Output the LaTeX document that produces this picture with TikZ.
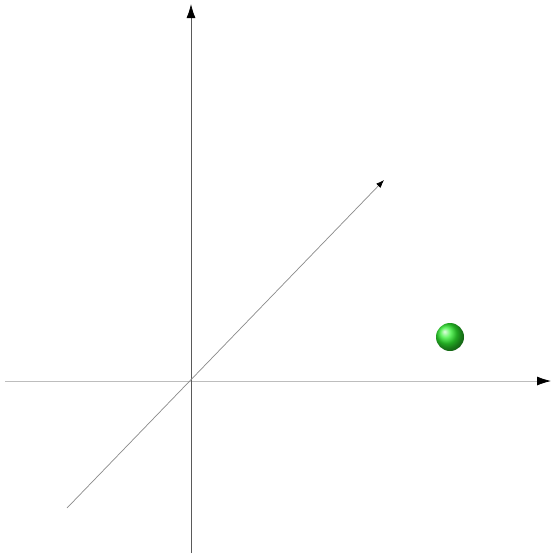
\documentclass[tikz,border=0pt]{standalone}
\usepackage{xcolor}
\usetikzlibrary{arrows.meta,positioning}
\definecolor{AxisLt}{HTML}{BDBDBD}
\definecolor{AxisDk}{HTML}{5A5A5A}
\definecolor{AxisMd}{HTML}{8A8A8A}
\definecolor{PtGreen}{HTML}{30F030}

\begin{document}
\begin{tikzpicture}[x=1pt,y=-1pt,
  axis/.style={draw=#1,line width=0.8pt,-{Latex[length=14pt,width=9pt,black]}},
  diag/.style={draw=AxisMd,line width=0.7pt,-{Latex[length=8pt,width=6pt,black]}},
  pt/.style={circle,minimum size=28pt,inner sep=0pt,shading=ball,ball color=PtGreen}
]
  \useasboundingbox (0,0) rectangle (551,555);

  % axis ends
  \coordinate (xs) at (5,381);
  \coordinate (xe) at (551,381);
  \coordinate (ys) at (191,553);
  \coordinate (ye) at (191,4);
  \coordinate (zs) at (67,508);
  \coordinate (ze) at (384,180);

  % axes
  \draw[axis=AxisLt] (xs) -- (xe);
  \draw[axis=AxisDk] (ys) -- (ye);
  \draw[diag] (zs) -- (ze);

  % point
  \node[pt] (p) at (450,337) {};
\end{tikzpicture}
\end{document}
